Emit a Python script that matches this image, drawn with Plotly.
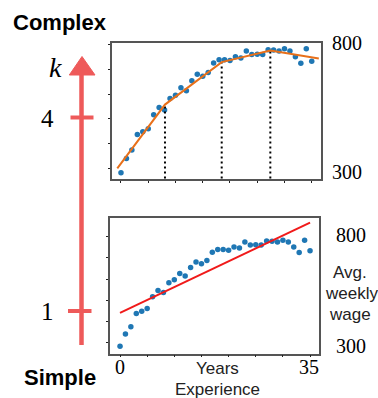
import plotly.graph_objects as go

W, H = 378, 398

# ---- data ----
years = list(range(0, 36))
wage = [283, 341, 375, 437, 448, 461, 517, 546, 536, 582,
        596, 626, 614, 654, 680, 672, 687, 726, 739, 739,
        736, 751, 746, 774, 760, 761, 760, 779, 778, 774,
        783, 774, 751, 725, 783, 733]
# piecewise-linear (complex) fit: breakpoints
pw_x = [-0.68, 8.07, 18.48, 27.4, 36.3]
pw_y = [301, 558, 729, 776, 744]
knots_x = [8.07, 18.48, 27.4]
knots_y = [558, 729, 776]
# linear (simple) fit
lin_x = [0, 35]
lin_y = [440, 866]
tick_years = [0, 5, 10, 15, 20, 25, 30, 35]
tick_wage = [300, 400, 500, 600, 700, 800]

BLUE = "#1f77b4"
ORANGE = "#e8701a"
RED = "#f01a1a"
ARROW = "#ee5a5a"
SERIF = "Liberation Serif"
SANS = "Liberation Sans"


def px(x):
    return x / W


def py(y):
    return 1 - y / H


fig = go.Figure()

# top panel
fig.add_trace(go.Scatter(x=years, y=wage, mode="markers",
                         marker=dict(size=5.5, color=BLUE),
                         xaxis="x", yaxis="y", showlegend=False))
for kx, ky in zip(knots_x, knots_y):
    fig.add_trace(go.Scatter(x=[kx, kx], y=[200, ky], mode="lines",
                             line=dict(color="black", width=2, dash="2px,3px"),
                             xaxis="x", yaxis="y", showlegend=False))
fig.add_trace(go.Scatter(x=pw_x, y=pw_y, mode="lines",
                         line=dict(color=ORANGE, width=2),
                         xaxis="x", yaxis="y", showlegend=False))

# bottom panel
fig.add_trace(go.Scatter(x=years, y=wage, mode="markers",
                         marker=dict(size=5.5, color=BLUE),
                         xaxis="x2", yaxis="y2", showlegend=False))
fig.add_trace(go.Scatter(x=lin_x, y=lin_y, mode="lines",
                         line=dict(color=RED, width=2),
                         xaxis="x2", yaxis="y2", showlegend=False))

axis_common = dict(showgrid=False, zeroline=False, showline=True, mirror=True,
                   linecolor="#555", linewidth=1.5, ticks="outside", ticklen=2,
                   tickcolor="#222", tickwidth=1, showticklabels=False)

fig.update_layout(
    width=W, height=H,
    margin=dict(l=0, r=0, t=0, b=0),
    paper_bgcolor="white", plot_bgcolor="white",
    xaxis=dict(domain=[px(112), px(321)], range=[-1.65, 36.7],
               tickvals=tick_years, anchor="y", **axis_common),
    yaxis=dict(domain=[py(179), py(43.3)], range=[258, 805],
               tickvals=tick_wage, anchor="x", **axis_common),
    xaxis2=dict(domain=[px(109.7), px(319)], range=[-1.9, 36.65],
                tickvals=tick_years, anchor="y2", **axis_common),
    yaxis2=dict(domain=[py(353.7), py(217.7)], range=[248, 889],
                tickvals=tick_wage, anchor="x2", **axis_common),
)

ann = []


def add_text(text, x, y, size, family, color="black", bold=False):
    ann.append(dict(text=f"<b>{text}</b>" if bold else text,
                    x=px(x), y=py(y), xref="paper", yref="paper",
                    xanchor="center", yanchor="middle", showarrow=False,
                    font=dict(size=size, family=family, color=color)))


add_text("Complex", 60, 22, 22, SANS, bold=True)
add_text("Simple", 60, 377, 22, SANS, bold=True)
add_text("<i>k</i>", 55, 68, 28, SERIF)
add_text("4", 47, 118, 25, SERIF)
add_text("1", 47, 311, 25, SERIF)
add_text("800", 347, 43, 20, SERIF)
add_text("300", 347, 172, 20, SERIF)
add_text("800", 351, 235, 20, SERIF)
add_text("300", 351, 346, 20, SERIF)
add_text("0", 120, 367, 20, SERIF)
add_text("35", 309, 367, 20, SERIF)
add_text("Avg.", 350, 272, 17, SANS, color="#222")
add_text("weekly", 351, 293, 17, SANS, color="#222")
add_text("wage", 350, 314, 17, SANS, color="#222")
add_text("Years", 217, 368, 17, SANS, color="#222")
add_text("Experience", 217, 389, 17, SANS, color="#222")

shapes = [
    dict(type="line", xref="paper", yref="paper", x0=px(81.5), x1=px(81.5),
         y0=py(345), y1=py(72), line=dict(color=ARROW, width=4.5)),
    dict(type="path", xref="paper", yref="paper",
         path=f"M {px(69.3)},{py(75)} L {px(95)},{py(75)} L {px(82)},{py(56.5)} Z",
         fillcolor=ARROW, line=dict(color=ARROW, width=1)),
    dict(type="line", xref="paper", yref="paper", x0=px(70.5), x1=px(93.5),
         y0=py(117.5), y1=py(117.5), line=dict(color=ARROW, width=4)),
    dict(type="line", xref="paper", yref="paper", x0=px(68), x1=px(91.5),
         y0=py(311), y1=py(311), line=dict(color=ARROW, width=4)),
]

fig.update_layout(annotations=ann, shapes=shapes)
fig.write_html("out.html")
